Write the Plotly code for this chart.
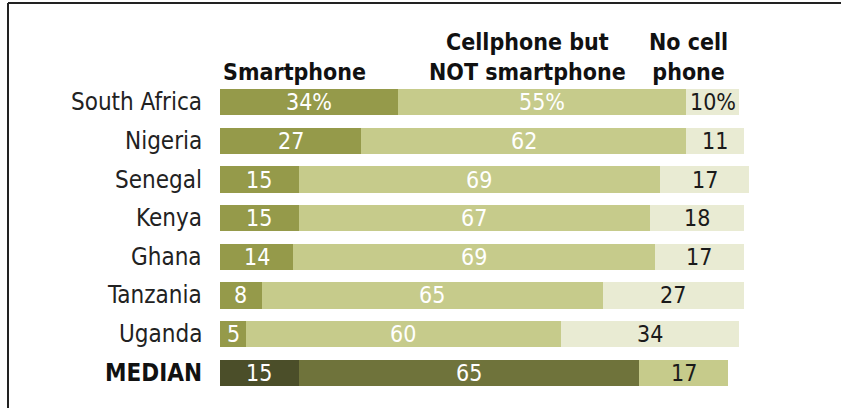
import plotly.graph_objects as go

# Share of adults who own a smartphone, a basic cellphone, or no cellphone (%)
countries = ["South Africa", "Nigeria", "Senegal", "Kenya", "Ghana", "Tanzania", "Uganda", "MEDIAN"]
smartphone = [34, 27, 15, 15, 14, 8, 5, 15]
cell_only = [55, 62, 69, 67, 69, 65, 60, 65]
no_cell = [10, 11, 17, 18, 17, 27, 34, 17]

series_names = ["Smartphone", "Cellphone but NOT smartphone", "No cell phone"]
header_texts = ["Smartphone", "Cellphone but<br>NOT smartphone", "No cell<br>phone"]

# Palette: regular rows vs. the highlighted median row
row_colors = ["#959a4a", "#c6cb8b", "#e9ebd3"]
median_colors = ["#4b4e29", "#6f733b", "#c6cb8b"]
text_colors = ["white", "white", "#1a1a1a"]

FONT = "DejaVu Sans Condensed, Liberation Sans Narrow, Arial Narrow, sans-serif"

n = len(countries)
ypos = list(range(n))
series = [smartphone, cell_only, no_cell]

fig = go.Figure()
for k, vals in enumerate(series):
    colors = [median_colors[k] if c == "MEDIAN" else row_colors[k] for c in countries]
    fig.add_trace(go.Bar(
        y=ypos, x=vals, orientation="h", name=series_names[k],
        marker=dict(color=colors, line=dict(width=0)),
        width=0.68, hoverinfo="x+name",
    ))

annotations = []
# Value labels centred in each segment
for i in range(n):
    start = 0
    for k, vals in enumerate(series):
        v = vals[i]
        label = f"{v}%" if i == 0 else str(v)
        annotations.append(dict(
            x=start + v / 2, y=i, xref="x", yref="y", text=label, showarrow=False,
            xanchor="center", yanchor="middle",
            font=dict(family=FONT, size=23, color=text_colors[k]),
        ))
        start += v

# Row labels to the left of the bars
for i, c in enumerate(countries):
    bold = c == "MEDIAN"
    annotations.append(dict(
        x=0, y=i, xref="paper", yref="y", xshift=-16,
        text=f"<b>{c}</b>" if bold else c, showarrow=False,
        xanchor="right", yanchor="middle",
        font=dict(family=FONT, size=24, color="#111111" if bold else "#222222"),
    ))

# Column headers
header_x = [14.3, 58.6, 89.5]
for k, t in enumerate(header_texts):
    annotations.append(dict(
        x=header_x[k], y=1.0, xref="x", yref="paper", yshift=-4,
        text=f"<b>{t}</b>", showarrow=False,
        xanchor="center", yanchor="bottom", align="center",
        font=dict(family=FONT, size=23, color="#111111"),
    ))

W, H = 841, 408
ML, MR, MT, MB = 220, 0, 83, 16
PW, PH = W - ML - MR, H - MT - MB


def px_to_paper_x(px):
    return (px - ML) / PW


def px_to_paper_y(py):
    return (H - MB - py) / PH


shapes = [
    # frame: top and left edges
    dict(type="line", xref="paper", yref="paper",
         x0=px_to_paper_x(8), x1=px_to_paper_x(845),
         y0=px_to_paper_y(3), y1=px_to_paper_y(3),
         line=dict(color="#222222", width=2)),
    dict(type="line", xref="paper", yref="paper",
         x0=px_to_paper_x(8), x1=px_to_paper_x(8),
         y0=px_to_paper_y(3), y1=px_to_paper_y(412),
         line=dict(color="#222222", width=2)),
]

fig.update_layout(
    width=W, height=H,
    margin=dict(l=ML, r=MR, t=MT, b=MB),
    barmode="stack", bargap=0,
    paper_bgcolor="white", plot_bgcolor="white",
    showlegend=False,
    xaxis=dict(range=[0, PW / 5.24], visible=False, fixedrange=True),
    yaxis=dict(range=[n - 0.5, -0.5], visible=False, fixedrange=True),
    annotations=annotations,
    shapes=shapes,
)

fig.write_html("out.html")
